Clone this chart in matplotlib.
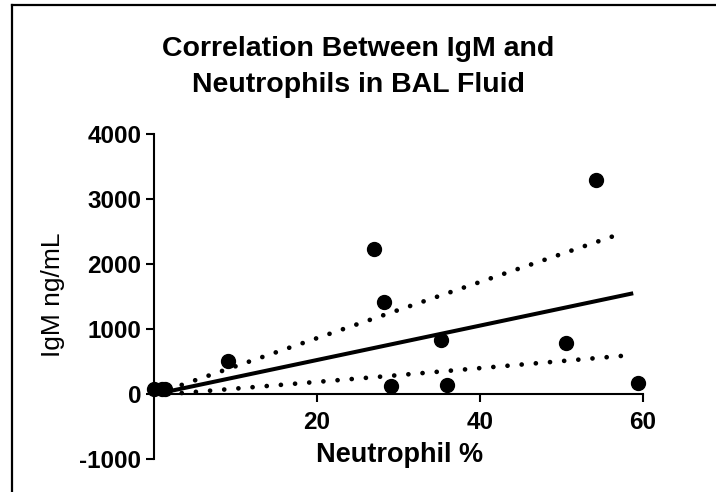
import matplotlib
matplotlib.use("Agg")
import matplotlib.pyplot as plt
from matplotlib.lines import Line2D

plt.rcParams['font.family'] = ['Liberation Sans', 'DejaVu Sans']

# Data
neutrophil_pct = [0.0, 1.0, 1.3, 9.1, 27.0, 28.2, 29.1, 35.2, 35.9, 50.5, 54.2, 59.4]
igm_ng_ml = [75, 75, 70, 510, 2230, 1415, 125, 830, 140, 785, 3290, 170]

fit_x = [1.0, 58.8]
fit_y = [20, 1550]
upper_x = [3.4, 28.9, 57.8]
upper_y = [140, 1245, 2490]
lower_x = [3.4, 28.6, 57.3]
lower_y = [15, 275, 585]

xticks = [20, 40, 60]
yticks = [-1000, 0, 1000, 2000, 3000, 4000]
title = "Correlation Between IgM and\nNeutrophils in BAL Fluid"
xlabel = "Neutrophil %"
ylabel = "IgM ng/mL"

W, H = 716, 492
fig = plt.figure(figsize=(W / 100, H / 100), dpi=100)
fig.patch.set_facecolor('white')

# outer frame (top and left edges visible)
fig.add_artist(Line2D([12 / W, 12 / W], [0, 1 - 5 / H], transform=fig.transFigure,
                      color='black', lw=1.6))
fig.add_artist(Line2D([12 / W, 1], [1 - 5 / H, 1 - 5 / H], transform=fig.transFigure,
                      color='black', lw=1.6))

left, right = 154 / W, 643 / W
bottom, top = 1 - 459 / H, 1 - 134 / H
ax = fig.add_axes([left, bottom, right - left, top - bottom])
ax.set_facecolor('white')

ax.set_xlim(0, 60)
ax.set_ylim(-1000, 4000)

ax.spines['top'].set_visible(False)
ax.spines['right'].set_visible(False)
ax.spines['bottom'].set_position(('data', 0))
for s in ('left', 'bottom'):
    ax.spines[s].set_linewidth(1.5)

ax.set_xticks(xticks)
ax.set_yticks(yticks)
ax.set_xticklabels([str(t) for t in xticks], fontsize=17.5, fontweight='bold')
ax.set_yticklabels([str(t) for t in yticks], fontsize=17.5, fontweight='bold')
ax.tick_params(axis='both', direction='out', length=6, width=1.5)
ax.tick_params(axis='x', pad=6)
ax.tick_params(axis='y', pad=3)

# confidence bands (dotted)
for bx, by in ((upper_x, upper_y), (lower_x, lower_y)):
    ax.plot(bx, by, color='black', lw=3.4, linestyle=(0, (0.01, 3.0)),
            dash_capstyle='round', clip_on=False, zorder=2)

# regression line
ax.plot(fit_x, fit_y, color='black', lw=2.9, solid_capstyle='butt', zorder=3)

# data points
ax.plot(neutrophil_pct, igm_ng_ml, 'o', color='black', ms=10, clip_on=False, zorder=4)

fig.text(358 / W, 1 - 66.5 / H, title, ha='center', va='center', fontsize=20.5,
         fontweight='bold', linespacing=1.5)
fig.text(400 / W, 1 - 455 / H, xlabel, ha='center', va='center', fontsize=19.5,
         fontweight='bold')
fig.text(53 / W, 1 - 295 / H, ylabel, ha='center', va='center', fontsize=19,
         rotation=90)

fig.savefig('out.png', dpi=100, facecolor='white')
